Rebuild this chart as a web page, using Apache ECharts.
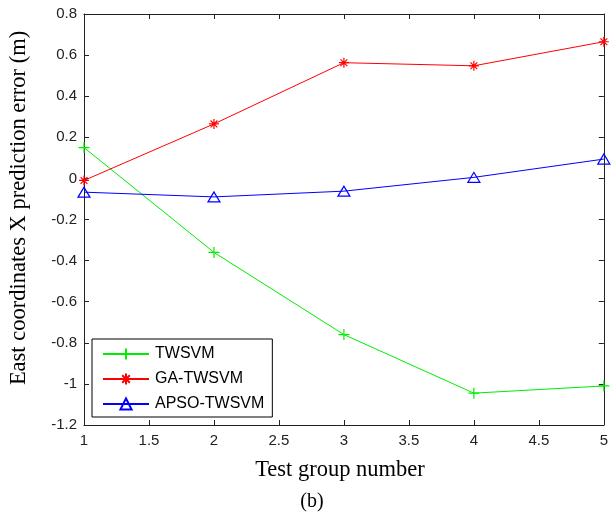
<!DOCTYPE html>
<html><head><meta charset="utf-8">
<script src="https://cdn.jsdelivr.net/npm/echarts@6/dist/echarts.min.js"></script>
<style>html,body{margin:0;padding:0;background:#fff}#c{width:611px;height:516px}</style>
</head><body><div id="c"></div>
<script>
const groups = [1, 2, 3, 4, 5];
const twsvm = [0.15, -0.36, -0.76, -1.045, -1.01];
const gaTwsvm = [-0.01, 0.265, 0.563, 0.548, 0.665];
const apsoTwsvm = [-0.067, -0.09, -0.062, 0.005, 0.094];
const seriesNames = ['TWSVM', 'GA-TWSVM', 'APSO-TWSVM'];
const xLabel = 'Test group number';
const yLabel = 'East coordinates X prediction error (m)';
const caption = '(b)';

const sans = 'Liberation Sans, Arial, sans-serif';
const serif = 'Liberation Serif, Times New Roman, serif';
const pair = (vals) => groups.map((g, i) => [g, vals[i]]);
const plusPath = 'path://M5,0L5,10M0,5L10,5';
const starPath = 'path://M5,0L5,10M0,5L10,5M1.6,1.6L8.4,8.4M1.6,8.4L8.4,1.6';

const axisCommon = {
  axisLine: { onZero: false, lineStyle: { color: '#222', width: 1 } },
  axisTick: { inside: true, length: 5, lineStyle: { color: '#222' } },
  splitLine: { show: false }
};

const chart = echarts.init(document.getElementById('c'));
chart.setOption({
  animation: false,
  backgroundColor: '#fff',
  grid: { left: 84, right: 6, top: 14, bottom: 91 },
  xAxis: [
    Object.assign({
      type: 'value', min: 1, max: 5, interval: 0.5, position: 'bottom',
      axisLabel: { color: '#222', fontFamily: sans, fontSize: 15, margin: 8 }
    }, axisCommon),
    Object.assign({
      type: 'value', min: 1, max: 5, interval: 0.5, position: 'top',
      axisLabel: { show: false }
    }, axisCommon)
  ],
  yAxis: [
    Object.assign({
      type: 'value', min: -1.2, max: 0.8, interval: 0.2, position: 'left',
      axisLabel: { color: '#222', fontFamily: sans, fontSize: 15, margin: 7,
        formatter: v => String(+v.toFixed(1)) }
    }, axisCommon),
    Object.assign({
      type: 'value', min: -1.2, max: 0.8, interval: 0.2, position: 'right',
      axisLabel: { show: false }
    }, axisCommon)
  ],
  legend: {
    orient: 'vertical', left: 92, top: 339,
    padding: [7, 8, 5, 10], itemGap: 9, itemWidth: 46, itemHeight: 14,
    borderColor: '#000', borderWidth: 1, backgroundColor: '#fff',
    textStyle: { color: '#000', fontFamily: sans, fontSize: 16, padding: [0, 0, 0, 1] },
    data: seriesNames
  },
  graphic: [
    { type: 'text', x: 340, y: 470,
      style: { text: xLabel, fill: '#000', font: '22.5px ' + serif, textAlign: 'center', textVerticalAlign: 'middle' } },
    { type: 'text', x: 19, y: 208, rotation: Math.PI / 2,
      style: { text: yLabel, fill: '#000', font: '22.5px ' + serif, textAlign: 'center', textVerticalAlign: 'middle' } },
    { type: 'text', x: 312, y: 502,
      style: { text: caption, fill: '#000', font: '20px ' + serif, textAlign: 'center', textVerticalAlign: 'middle' } }
  ],
  series: [
    { name: seriesNames[0], type: 'line', data: pair(twsvm),
      symbol: plusPath, symbolSize: 11,
      lineStyle: { color: '#00ee00', width: 1 },
      itemStyle: { color: '#00ee00', borderColor: '#00ee00', borderWidth: 1.2 } },
    { name: seriesNames[1], type: 'line', data: pair(gaTwsvm),
      symbol: starPath, symbolSize: 10,
      lineStyle: { color: '#ff0000', width: 1 },
      itemStyle: { color: '#ff0000', borderColor: '#ff0000', borderWidth: 1.2 } },
    { name: seriesNames[2], type: 'line', data: pair(apsoTwsvm),
      symbol: 'triangle', symbolSize: [12, 10],
      lineStyle: { color: '#0000ff', width: 1 },
      itemStyle: { color: 'rgba(255,255,255,0)', borderColor: '#0000ff', borderWidth: 1.2 } }
  ]
});
</script></body></html>
